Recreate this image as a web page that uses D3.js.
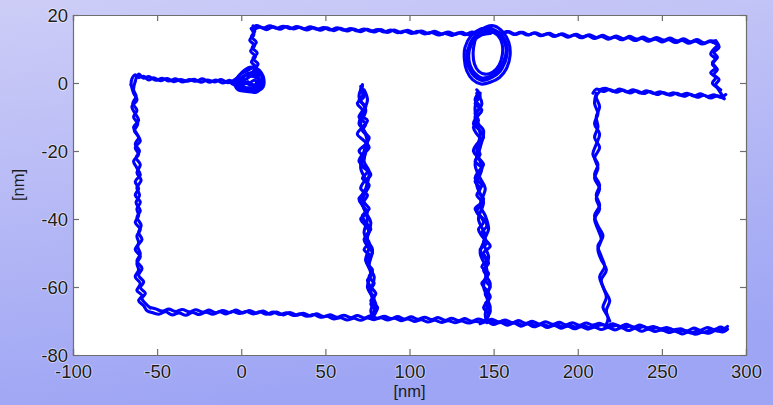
<!DOCTYPE html>
<html><head><meta charset="utf-8">
<script src="https://cdn.jsdelivr.net/npm/d3@7"></script>
<style>body{margin:0;}svg{display:block;}</style>
</head><body>
<svg id="c" width="773" height="405"></svg>
<script>
// ---- data (nm) ----
const xTicks = [-100,-50,0,50,100,150,200,250,300];
const yTicks = [-80,-60,-40,-20,0,20];
const xLabel = "[nm]";
const yLabel = "[nm]";

const topLeftA = [[4,0.3],[0,-0.4],[-4,0.6],[-8,0.1],[-12,1.0],[-16,0.3],[-20,0.9],[-24,0.2],[-28,1.1],[-32,0.5],[-36,1.0],[-40,0.4],[-44,1.3],[-48,0.7],[-52,1.5],[-55,0.9],[-58,2.0],[-61,1.6],[-63,2.4],[-65,1.2],[-65.5,-0.5]];
const topLeftB = [[-63,0.6],[-61,2.6],[-58,1.4],[-55,1.9],[-51,0.8],[-47,1.4],[-43,0.6],[-39,1.2],[-35,0.3],[-31,1.0],[-27,0.5],[-23,1.2],[-19,0.2],[-15,0.9],[-11,0.0],[-7,0.8],[-3,-0.2],[1,0.5],[5,-0.6]];
const leftSideA = [[-65.5,-0.5],[-64,-3],[-62,-5],[-65,-7],[-63,-9],[-61,-11],[-64,-13],[-62,-15],[-60,-17],[-63,-19],[-61,-21],[-64,-23],[-62,-25],[-60,-27],[-63,-29],[-61,-31],[-63,-33],[-60,-35],[-62,-37],[-61,-39],[-63,-41],[-60,-43],[-62,-45],[-61,-47],[-63,-49],[-60,-51],[-62,-53],[-61,-55],[-63,-57],[-60,-59],[-62,-61],[-59,-62.5],[-61,-64],[-58,-65.5],[-56,-67],[-53,-67.5]];
const leftSideB = [[-54,-66.2],[-57,-64.8],[-59,-63.4],[-57,-61.8],[-60,-60.2],[-58,-58.5],[-61,-56.6],[-59,-54.5],[-62,-52.4],[-60,-50.3],[-61.5,-48],[-59,-46],[-61,-44],[-59.5,-41.8],[-62,-39.5],[-60,-37.5],[-62.5,-35.2],[-60.5,-33],[-62,-30.8],[-59.5,-28.6],[-62,-26.4],[-60,-24],[-62.5,-22],[-60.5,-20],[-63,-18],[-61,-16],[-63.5,-14],[-61.5,-12],[-64,-10],[-62,-8],[-64.5,-6],[-62.5,-4],[-64,-2],[-63,0.5]];
const bottomA = [[-53,-67.5],[-49,-68.0],[-45,-67.3],[-41,-68.2],[-37,-67.6],[-33,-68.3],[-29,-67.5],[-25,-68.1],[-21,-67.4],[-17,-68.0],[-13,-67.3],[-9,-67.9],[-5,-67.2],[-1,-67.8],[3,-67.2],[7,-67.9],[11,-67.3],[15,-68.0],[19,-67.4],[23,-68.1],[27,-67.6],[31,-68.4],[35,-67.9],[39,-68.6],[43,-68.1],[47,-68.9],[51,-68.6],[55,-69.4],[59,-69.0],[63,-69.7],[67,-69.2],[71,-69.8],[75,-69.1],[79,-69.6],[83,-69.0],[87,-69.7],[91,-69.2],[95,-69.9],[99,-69.4],[103,-70.1],[107,-69.6],[111,-70.3],[115,-69.8],[119,-70.4],[123,-69.9],[127,-70.5],[131,-70.0],[135,-70.6],[139,-70.1],[143,-70.3],[147,-69.8],[151,-70.6],[155,-70.1],[159,-70.9],[163,-70.4],[167,-71.2],[171,-70.6],[175,-71.4],[179,-70.9],[183,-71.6],[187,-71.0],[191,-71.7],[195,-71.2],[199,-71.8],[203,-71.3],[207,-71.9],[211,-71.4],[215,-71.1],[219,-71.8],[223,-71.3],[227,-72.0],[231,-71.5],[235,-72.2],[239,-71.7],[243,-72.4],[247,-72.0],[251,-72.8],[255,-72.4],[259,-73.2],[263,-72.8],[267,-73.5],[271,-73.0],[275,-73.3],[279,-72.6],[283,-72.9],[287,-72.2],[289,-71.6]];
const bottomB = [[288,-72.8],[285,-71.8],[281,-72.5],[277,-71.9],[273,-72.7],[269,-72.1],[265,-72.9],[261,-72.3],[257,-72.6],[253,-71.9],[249,-72.3],[245,-71.6],[241,-72.0],[237,-71.2],[233,-71.8],[229,-71.0],[225,-71.6],[221,-70.8],[217,-71.4],[213,-70.7],[209,-71.2],[205,-70.6],[201,-71.3],[197,-70.5],[193,-71.1],[189,-70.4],[185,-71.0],[181,-70.2],[177,-70.9],[173,-70.1],[169,-70.7],[165,-69.9],[161,-70.5],[157,-69.7],[153,-70.3],[149,-69.5],[145,-70.0],[141,-69.4],[137,-70.1],[133,-69.3],[129,-69.9],[125,-69.2],[121,-69.8],[117,-69.0],[113,-69.6],[109,-68.9],[105,-69.5],[101,-68.8],[97,-69.4],[93,-68.7],[89,-69.3],[85,-68.6],[81,-69.2],[77,-68.5],[73,-69.1],[69,-68.4],[65,-69.0],[61,-68.3],[57,-68.9],[53,-68.2],[49,-68.7],[45,-67.9],[41,-68.5],[37,-67.7],[33,-68.3],[29,-67.5],[25,-68.2],[21,-67.4],[17,-68.0],[13,-67.1],[9,-67.7],[5,-66.9],[1,-67.6],[-3,-66.8],[-7,-67.5],[-11,-66.9],[-15,-67.6],[-19,-66.8],[-23,-67.4],[-27,-66.7],[-31,-67.3],[-35,-66.6],[-39,-67.2],[-43,-66.5],[-47,-67.1],[-51,-66.4],[-54,-66.0]];
const bottomC = [[142,-70.8],[146,-70.2],[150,-71.0],[154,-70.4],[158,-71.2],[162,-70.6],[166,-71.5],[170,-70.9],[174,-71.7],[178,-71.1],[182,-71.9],[186,-71.3],[190,-72.1],[194,-71.5],[198,-72.3],[202,-71.7],[206,-72.4],[210,-71.8],[214,-72.5],[218,-71.9],[222,-72.6],[226,-72.0],[230,-72.8],[234,-72.2],[238,-73.0],[242,-72.4],[246,-73.1],[250,-72.6],[254,-73.4],[258,-72.9],[262,-73.8],[266,-73.2],[270,-73.9],[274,-73.3],[278,-73.6],[282,-72.8],[286,-73.2],[289,-72.4]];
const bar1A = [[71,-1],[73,-3],[70,-5],[74,-7],[71,-9.5],[75,-11],[72,-13],[69,-15],[73,-17],[76,-19],[72,-21],[70,-23],[74,-25],[77,-27],[73,-29],[71,-31],[75,-33],[73,-35],[76,-37],[72,-39],[74,-41],[77,-43],[74,-45],[76,-47],[73,-49],[77,-51],[75,-53],[78,-55],[76,-57],[79,-59],[76,-61],[79,-63],[77,-65],[80,-67],[78,-69]];
const bar1B = [[79,-68],[81,-66],[77,-64],[80,-62],[77,-60],[75,-58],[78,-56],[76,-54],[74,-52],[78,-50],[75,-48],[73,-46],[76,-44],[74,-42],[71,-40],[75,-38],[72,-36],[70,-34],[74,-32],[76,-30],[72,-28],[75,-26],[71,-24],[73,-22],[70,-20],[74,-18],[76,-16],[72,-14],[74,-12],[70,-10],[72,-8],[69,-6],[73,-4],[71,-2],[72,-0.5]];
const bar1C = [[72,-1],[70,-4],[74,-8],[71,-12],[75,-16],[73,-20],[71,-25],[75,-30],[72,-35],[75,-40],[73,-44],[76,-48],[74,-52],[77,-56],[75,-60],[79,-64],[77,-67],[79,-69.5]];
const bar1D = [[73,-2],[75,-5],[72,-9],[70,-12],[73,-14],[75,-18],[73,-23],[76,-26],[74,-31],[71,-34],[74,-38],[77,-41],[75,-46],[78,-49],[76,-54],[79,-57],[77,-62],[80,-65],[78,-68]];
const bar2A = [[140,-2],[142,-4],[139,-6],[143,-8],[140,-10],[138,-12],[142,-14],[144,-16],[140,-18],[138,-20],[141,-22],[144,-24],[141,-26],[139,-28],[143,-30],[141,-32],[144,-34],[142,-36],[140,-38],[144,-40],[146,-42],[143,-44],[145,-46],[148,-48],[144,-50],[146,-52],[143,-54],[147,-56],[145,-58],[148,-60],[145,-62],[147,-64],[144,-66],[147,-68],[145,-70]];
const bar2B = [[146,-69],[148,-67],[145,-65],[148,-63],[146,-61],[143,-59],[146,-57],[144,-55],[147,-53],[144,-51],[142,-49],[146,-47],[143,-45],[141,-43],[144,-41],[142,-39],[139,-37],[143,-35],[140,-33],[142,-31],[139,-29],[141,-27],[143,-25],[139,-23],[142,-21],[140,-19],[143,-17],[140,-15],[138,-13],[141,-11],[139,-9],[142,-7],[139,-5],[141,-3]];
const bar2C = [[140,-3],[143,-6],[139,-10],[142,-15],[140,-20],[143,-25],[140,-30],[144,-35],[141,-40],[145,-45],[142,-50],[146,-55],[144,-60],[147,-64],[145,-68],[146,-70.5]];
const bar2D = [[142,-3],[139,-7],[141,-12],[144,-14],[142,-19],[139,-24],[142,-28],[145,-31],[142,-36],[145,-39],[147,-43],[144,-47],[147,-51],[145,-56],[148,-59],[146,-63],[148,-66],[146,-69]];
const bar3A = [[211,-3],[210,-6],[212,-9],[210,-12],[213,-15],[211,-18],[209,-21],[212,-24],[210,-27],[213,-30],[211,-33],[213,-36],[210,-39],[212,-42],[215,-45],[212,-48],[214,-51],[216,-54],[213,-57],[215,-60],[217,-63],[215,-66],[218,-69],[217,-71]];
const bar3B = [[219,-70],[217,-67],[219,-64],[216,-61],[214,-58],[217,-55],[214,-52],[212,-49],[214,-46],[212,-43],[210,-40],[213,-37],[211,-34],[213,-31],[210,-28],[212,-25],[210,-22],[213,-19],[210,-16],[212,-13],[211,-10],[213,-7],[211,-4],[213,-2.5]];
const returnA = [[213,-2],[217,-1.6],[221,-2.5],[225,-1.8],[229,-2.6],[233,-2.0],[237,-2.9],[241,-2.3],[245,-3.1],[249,-2.6],[253,-3.4],[257,-2.9],[261,-3.6],[265,-3.0],[269,-3.8],[273,-3.2],[277,-4.0],[281,-3.5],[285,-4.2],[288,-3.4]];
const returnB = [[287,-4.6],[283,-3.8],[279,-4.4],[275,-3.6],[271,-4.2],[267,-3.3],[263,-3.9],[259,-3.0],[255,-3.6],[251,-2.8],[247,-3.4],[243,-2.5],[239,-3.1],[235,-2.3],[231,-2.9],[227,-2.1],[223,-2.7],[219,-1.9],[215,-2.5],[211,-1.8],[209,-3.0]];
const rightA = [[285,-2],[282,-0.5],[284,1],[281,2.5],[283,4],[280,5.5],[282,7],[279,8.5],[281,10],[283,11.2],[280,12]];
const rightB = [[282,12.4],[284,10.5],[281,9],[283,7.5],[280,6],[282,4.5],[279,3],[282,1.5],[280,0],[283,-1.5],[285,-3],[287,-4.6]];
const topA = [[283,11.3],[279,12.4],[275,11.8],[271,12.8],[267,12.1],[263,13.0],[259,12.4],[255,13.2],[251,12.6],[247,13.4],[243,12.7],[239,13.5],[235,12.9],[231,13.7],[227,13.0],[223,13.8],[219,13.2],[215,14.0],[211,13.4],[207,14.2],[203,13.6],[199,14.3],[195,13.7],[191,14.5],[187,13.9],[183,14.6],[179,14.0],[175,14.8],[171,14.2],[167,14.9],[163,14.3],[159,15.1],[155,14.5],[151,15.3],[148,14.6]];
const topB = [[150,15.2],[154,14.5],[158,15.1],[162,14.3],[166,14.9],[170,14.1],[174,14.7],[178,13.9],[182,14.5],[186,13.7],[190,14.3],[194,13.5],[198,14.1],[202,13.3],[206,13.9],[210,13.1],[214,13.7],[218,12.9],[222,13.5],[226,12.7],[230,13.3],[234,12.5],[238,13.1],[242,12.3],[246,12.9],[250,12.1],[254,12.7],[258,11.9],[262,12.5],[266,11.7],[270,12.3],[274,11.5],[278,12.1],[282,12.4]];
const topC = [[145,15.3],[141,14.6],[137,15.0],[133,14.2],[129,14.8],[125,14.0],[121,14.6],[117,14.1],[113,14.9],[109,14.4],[105,15.2],[101,14.6],[97,15.3],[93,14.8],[89,15.6],[85,15.0],[81,15.7],[77,15.2],[73,15.9],[69,15.3],[65,16.0],[61,15.5],[57,16.2],[53,15.6],[49,16.3],[45,15.8],[41,16.5],[37,15.9],[33,16.6],[29,16.0],[25,16.7],[21,16.1],[17,16.8],[13,16.2],[9,16.9],[6,16.0]];
const topD = [[7,15.6],[11,16.4],[15,15.7],[19,16.5],[23,15.8],[27,16.6],[31,15.9],[35,16.4],[39,15.6],[43,16.3],[47,15.5],[51,16.2],[55,15.4],[59,16.1],[63,15.3],[67,15.9],[71,15.1],[75,15.8],[79,15.0],[83,15.7],[87,14.9],[91,15.6],[95,14.8],[99,15.5],[103,14.7],[107,15.3],[111,14.6],[115,15.2],[119,14.4],[123,15.0],[127,14.3],[131,14.9],[135,14.2],[139,14.8],[143,14.3],[147,15.0]];
const loop = [[148,14.6],[143,14.2],[138,12.3],[134.5,9.6],[134,6.8],[135.5,4.2],[138.5,2.0],[142.5,0.8],[147,1.2],[151.5,2.4],[155.5,4.8],[157.8,7.9],[157.2,11.0],[154.5,13.6],[150,15.1],[145,14.8],[140,13.4],[136.5,11.0],[135.2,8.2],[136,5.3],[138.8,2.9],[143,1.5],[147.8,1.9],[152.5,3.6],[156,6.4],[157.5,9.6],[156,12.6],[152,14.6],[147.5,15.6],[142,15.0],[137.5,13.0],[135,10.2],[134.6,7.4],[136.2,4.6],[139.5,2.4],[144,1.2],[149,1.7],[153.8,3.4],[157,6.6],[158.2,9.8],[156.5,12.9],[152.5,15.0],[148,16.2]];
const loop2 = [[148,16.2],[142,15.8],[136.5,13.8],[133,10.5],[132.6,7.0],[134,3.6],[137.5,1.0],[142.5,-0.3],[148,0.2],[153.5,1.6],[157.8,4.4],[159.8,8.2],[159,12],[155.5,15],[150.5,16.8],[145.5,16.5],[141,15],[138.8,12.2],[137.8,8.8],[138.6,5.6],[141.2,3.4],[145,2.6],[149.5,3.2],[153.2,5.2],[155.2,8.4],[155,11.6],[152.5,14],[148.5,15.2]];
const upLeftA = [[6,16.0],[7.5,14.2],[5,12.6],[8,11],[5.5,9.4],[8.5,7.8],[6,6.2],[9,4.6],[6.5,3],[9.5,1.5]];
const upLeftB = [[11,2.5],[8,4],[10,5.6],[7,7.2],[9.5,8.8],[6.5,10.4],[9,12],[6,13.6],[8,15.2],[7,16.8]];
const blob = [[9.5,1.5],[12,0],[10,-1.8],[6,-1.5],[2,-1.2],[-1,-0.2],[0,1.5],[4,2.5],[8,3.2],[12,2.2],[13,-0.5],[10,-2.2],[5,-2],[1,-0.8],[-3,0.4],[-1,2.3],[3,3.5],[7,4.4],[10.5,3.6],[12.5,1.2],[11,-1.2],[7,-0.6],[3,0.2],[-2,-1.0],[-5,0.2],[-2,1.5],[2,1.0],[6,2.0],[10,1.0],[8,-0.5],[4,0.3]];
const blob2 = [[-4,-0.5],[-2,-2],[2,-2.4],[6,-2.6],[10,-2.4],[13,-1.2],[13.5,1],[12,3],[9,4.4],[5,4.6],[1,3.4],[-2,1.8],[-4,0.4],[-1,-1],[3,-1.6],[7,-1.2],[11,0],[10,2],[6,3],[2,2.2],[0,0.5],[4,-0.2],[8,0.8],[11,-1.8],[8,-2.8],[4,-2.2],[0,-1.5],[-3,-0.8],[-6,0],[-3,1],[0,-0.2]];

const traces = [topLeftA, topLeftB, leftSideA, leftSideB, bottomA, bottomB, bottomC,
  bar1A, bar1B, bar1C, bar1D, bar2A, bar2B, bar2C, bar2D, bar3A, bar3B, returnA, returnB,
  rightA, rightB, topA, topB, topC, topD, loop, loop2, upLeftA, upLeftB, blob, blob2];

// ---- drawing ----
(function(){
const W = 773, H = 405;
const m = {l:73, r:746, t:15, b:355};
const svg = d3.select("#c");
const defs = svg.append("defs");
const g = defs.append("linearGradient").attr("id","bg").attr("x1",0).attr("y1",0).attr("x2",0.25).attr("y2",1);
g.append("stop").attr("offset","0%").attr("stop-color","#cdcdf7");
g.append("stop").attr("offset","100%").attr("stop-color","#9ea5f4");
svg.append("rect").attr("width",W).attr("height",H).attr("fill","url(#bg)");

defs.append("clipPath").attr("id","clip").append("rect")
  .attr("x",m.l).attr("y",m.t).attr("width",m.r-m.l).attr("height",m.b-m.t);
defs.append("filter").attr("id","soft").append("feGaussianBlur").attr("stdDeviation",0.45);

const x = d3.scaleLinear().domain([-100,300]).range([m.l,m.r]);
const y = d3.scaleLinear().domain([-80,20]).range([m.b,m.t]);

svg.append("rect").attr("x",m.l).attr("y",m.t).attr("width",m.r-m.l).attr("height",m.b-m.t).attr("fill","#ffffff");

const line = d3.line().x(d=>x(d[0])).y(d=>y(d[1])).curve(d3.curveCatmullRom.alpha(0.5));
const tg = svg.append("g").attr("clip-path","url(#clip)").append("g").attr("filter","url(#soft)");
tg.selectAll("path").data(traces).join("path")
  .attr("d", line).attr("fill","none").attr("stroke","#0000ff")
  .attr("stroke-width",3.1).attr("stroke-linejoin","round").attr("stroke-linecap","round");

const axColor = "#6e6e6e";
const tickLen = 6;
const fmt = d => String(d);
const axB = d3.axisBottom(x).tickValues(xTicks).tickSize(-tickLen).tickFormat(fmt);
const axT = d3.axisTop(x).tickValues(xTicks).tickSize(-tickLen).tickFormat("");
const axL = d3.axisLeft(y).tickValues(yTicks).tickSize(-tickLen).tickFormat(fmt);
const axR = d3.axisRight(y).tickValues(yTicks).tickSize(-tickLen).tickFormat("");

function style(sel){
  sel.selectAll(".domain").attr("stroke",axColor).attr("stroke-width",1.2).attr("fill","none");
  sel.selectAll(".tick line").attr("stroke",axColor).attr("stroke-width",1.2);
  sel.selectAll(".tick text").attr("fill","#1c1c1c").attr("font-family","'Liberation Sans', Arial, sans-serif")
    .attr("font-size","18.5px").attr("stroke","rgba(255,255,255,0.55)").attr("stroke-width",1.6)
    .attr("paint-order","stroke");
}
const gb = svg.append("g").attr("transform",`translate(0,${m.b})`).call(axB);
gb.selectAll(".tick text").attr("dy","0").attr("y",23);
style(gb);
const gt = svg.append("g").attr("transform",`translate(0,${m.t})`).call(axT); style(gt);
const gl = svg.append("g").attr("transform",`translate(${m.l},0)`).call(axL);
gl.selectAll(".tick text").attr("x",-5).attr("dy","0.36em");
style(gl);
const gr = svg.append("g").attr("transform",`translate(${m.r},0)`).call(axR); style(gr);

svg.append("text").attr("x",(m.l+m.r)/2).attr("y",397).attr("text-anchor","middle")
  .attr("font-family","'Liberation Sans', Arial, sans-serif").attr("font-size","16.5px").attr("fill","#1c1c1c")
  .text(xLabel);
svg.append("text").attr("transform",`translate(24,${(m.t+m.b)/2}) rotate(-90)`).attr("text-anchor","middle")
  .attr("font-family","'Liberation Sans', Arial, sans-serif").attr("font-size","16.5px").attr("fill","#1c1c1c")
  .text(yLabel);
})();
</script>
</body></html>
